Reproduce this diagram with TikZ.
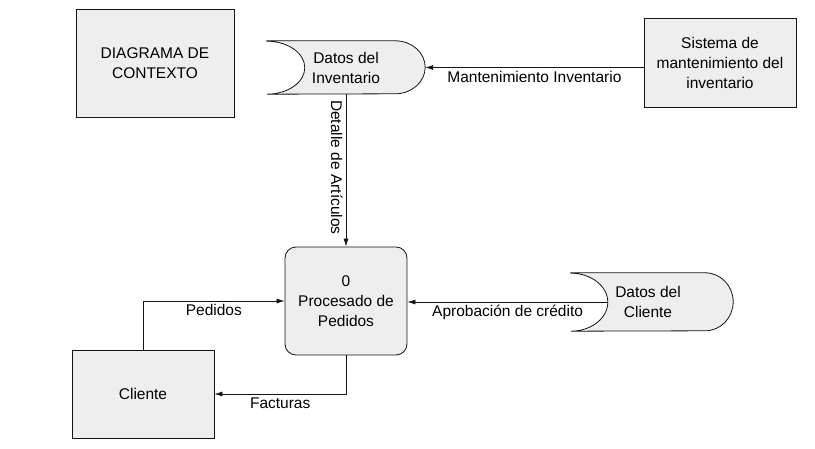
\documentclass[tikz,border=0pt]{standalone}
\usepackage{fontspec}
\setmainfont{Liberation Sans}
\usepackage{tikz}
\usetikzlibrary{positioning,arrows.meta,calc}
\definecolor{boxfill}{RGB}{238,238,238}
\definecolor{linec}{RGB}{20,20,20}
\tikzset{
  entity/.style  = {draw=linec, line width=0.8pt, fill=boxfill, align=center,
                    font=\fontsize{15.5}{20}\selectfont},
  proc/.style    = {draw=linec, line width=0.8pt, fill=boxfill, rounded corners=11pt,
                    align=center, font=\fontsize{15.5}{20}\selectfont},
  storetxt/.style= {align=center, inner sep=0pt, font=\fontsize{15.5}{20}\selectfont},
  storeline/.style = {draw=linec, line width=0.8pt, fill=boxfill},
  flow/.style    = {-{Latex[length=8pt,width=5pt]}, line width=0.7pt, draw=linec},
  lbl/.style     = {font=\fontsize{15.5}{18}\selectfont, inner sep=3pt},
}

\begin{document}
\begin{tikzpicture}[x=1pt,y=-1pt]
\useasboundingbox (0,0) rectangle (815,449);

% boxes, placed at pixel coordinates of the reference
\node[entity, minimum width=158pt, minimum height=108pt] (ctx) at (155,63)
  {DIAGRAMA DE\\CONTEXTO};
\node[entity, minimum width=152pt, minimum height=89pt] (sis) at (720,62.5)
  {Sistema de\\mantenimiento del\\inventario};
\node[proc, minimum width=122pt, minimum height=108pt] (pro) at (346,301)
  {0\\Procesado de\\Pedidos};
\node[entity, minimum width=142pt, minimum height=88pt] (cli) at (143,394)
  {Cliente};

% data stores: text node, outline drawn round it
\node[storetxt, minimum width=158pt, minimum height=53pt] (inv) at (346,67.5) {};
\draw[storeline] (inv.north west) -- ([xshift=-30pt]inv.north east)
  arc[start angle=90, end angle=-90, x radius=30pt, y radius=26.5pt]
  -- (inv.south west)
  arc[start angle=-90, end angle=90, x radius=38pt, y radius=26.5pt] -- cycle;
\node[storetxt] (invt) at (inv.center) {Datos del\\Inventario};

\node[storetxt, minimum width=162pt, minimum height=58pt] (dcl) at (652,302) {};
\draw[storeline] (dcl.north west) -- ([xshift=-28pt]dcl.north east)
  arc[start angle=90, end angle=-90, x radius=28pt, y radius=29pt]
  -- (dcl.south west)
  arc[start angle=-90, end angle=90, x radius=37pt, y radius=29pt] -- cycle;
\node[storetxt] (dclt) at ([xshift=-4pt]dcl.center) {Datos del\\Cliente};
\coordinate (dcl-in) at ([xshift=37pt]dcl.west);

% flows
\draw[flow] (inv.east -| sis.west) -- node[lbl, below] {Mantenimiento Inventario} (inv.east);
\draw[flow] (inv.south) -- node[lbl, rotate=-90, anchor=north, pos=0.48] {Detalle de Artículos} (pro.north);
\draw[flow] (cli.north) |- node[lbl, below, pos=0.75] {Pedidos} (pro.west);
\draw[flow] (pro.south) |- node[lbl, below, pos=0.75] {Facturas} (cli.east);
\draw[flow] (dcl-in) -- node[lbl, below] {Aprobación de crédito} (dcl-in -| pro.east);

\end{tikzpicture}
\end{document}
